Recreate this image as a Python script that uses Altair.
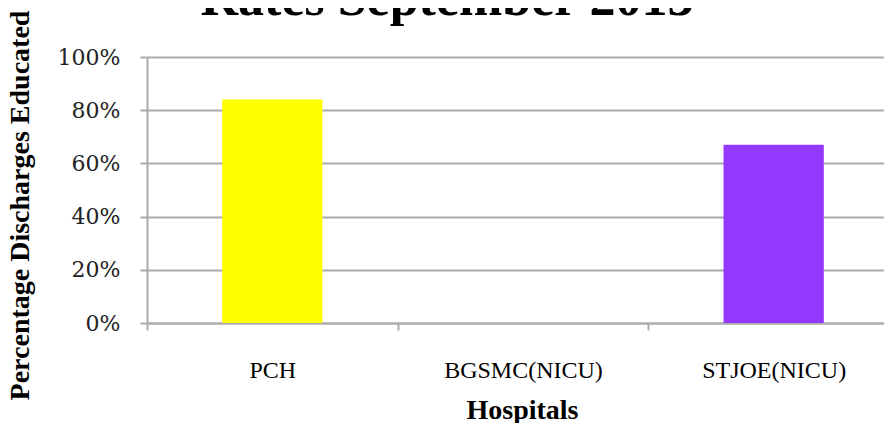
import altair as alt
import pandas as pd

hospitals = ["PCH", "BGSMC(NICU)", "STJOE(NICU)"]
rates = [0.84, 0.0, 0.67]
bar_colors = ["#FFFF00", "#00B050", "#9437FF"]
title_text = ["Rates September 2013"]
y_ticks = [0, 0.2, 0.4, 0.6, 0.8, 1.0]

df = pd.DataFrame({"Hospital": hospitals, "Rate": rates})
tdf = pd.DataFrame({"t": title_text})

serif = "Liberation Serif"
grid_col = "#ababab"

bars = alt.Chart(df).mark_bar(width=alt.RelativeBandSize(0.4)).encode(
    x=alt.X(
        "Hospital:N",
        sort=hospitals,
        scale=alt.Scale(paddingInner=0, paddingOuter=0, range=[0, 752]),
        axis=alt.Axis(
            title="Hospitals",
            titleFont=serif,
            titleFontWeight="bold",
            titleFontSize=28,
            titleColor="#000000",
            titleX=375,
            titleY=95,
            titleAlign="center",
            titleBaseline="alphabetic",
            labelAngle=0,
            labelFont=serif,
            labelFontSize=24,
            labelColor="#000000",
            labelPadding=28,
            tickBand="extent",
            tickSize=7,
            tickWidth=2,
            tickColor=grid_col,
            domainColor=grid_col,
            domainWidth=2,
            grid=False,
        ),
    ),
    y=alt.Y(
        "Rate:Q",
        scale=alt.Scale(domain=[0, 1]),
        axis=alt.Axis(
            values=y_ticks,
            format=".0%",
            title="Percentage Discharges Educated",
            titleFont=serif,
            titleFontWeight="bold",
            titleFontSize=28,
            titleColor="#000000",
            titleAngle=270,
            titleX=-127,
            titleY=148,
            titleAlign="center",
            titleBaseline="middle",
            labelFont="DejaVu Serif",
            labelFontSize=22,
            labelColor="#222222",
            labelPadding=20,
            tickSize=7,
            tickWidth=2,
            tickColor=grid_col,
            domainColor=grid_col,
            domainWidth=2,
            grid=True,
            gridColor=grid_col,
            gridWidth=2,
        ),
    ),
    color=alt.Color(
        "Hospital:N",
        scale=alt.Scale(domain=hospitals, range=bar_colors),
        legend=None,
    ),
)

title = alt.Chart(tdf).mark_text(
    font=serif,
    fontWeight="bold",
    fontSize=52,
    color="#000000",
    align="center",
    baseline="alphabetic",
).encode(
    text="t:N",
    x=alt.value(300),
    y=alt.value(-42),
)

chart = alt.layer(bars, title).properties(
    width=737,
    height=266,
    autosize=alt.AutoSizeParams(type="none"),
    padding={"left": 139, "top": 49, "right": 0, "bottom": 100},
).configure_view(stroke=None).configure(background="#ffffff")

chart.save("out.html", embed_options={"renderer": "svg", "actions": False})
